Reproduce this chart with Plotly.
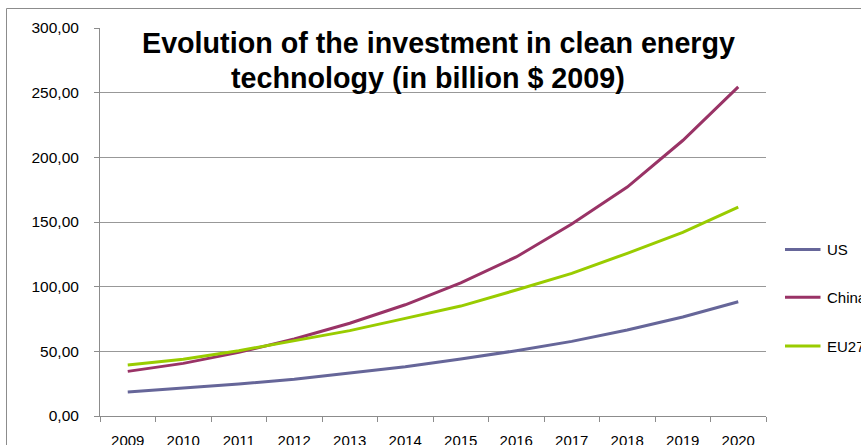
import plotly.graph_objects as go

# Investment in clean energy technology, billion $ (2009 prices)
years = ["2009", "2010", "2011", "2012", "2013", "2014",
         "2015", "2016", "2017", "2018", "2019", "2020"]
us = [18.6, 21.4, 24.7, 28.4, 33.0, 38.0, 44.0, 50.5, 57.7, 66.5, 76.5, 88.3]
china = [34.5, 40.7, 49.2, 59.5, 71.7, 86.0, 103.0, 123.0, 148.5, 177.0, 213.0, 254.5]
eu27 = [39.4, 43.8, 50.5, 58.0, 66.0, 75.5, 85.0, 97.4, 110.3, 125.8, 142.0, 161.5]

series_names = ["US", "China", "EU27"]
series_values = [us, china, eu27]
series_colors = ["#666699", "#993366", "#99CC00"]

title_lines = ["Evolution of the investment in clean energy",
               "technology (in billion $ 2009)"]

W, H = 861, 445
L, R, T, B = 100, 95, 28, 29
plot_w = W - L - R
plot_h = H - T - B

FONT = "Liberation Sans, Arial, sans-serif"
AXIS = "#8C8C8C"
GRID = "#989898"

fig = go.Figure()
for name, vals, col in zip(series_names, series_values, series_colors):
    fig.add_trace(go.Scatter(
        x=years, y=vals, name=name, mode="lines",
        line=dict(color=col, width=3),
        showlegend=False,
    ))


def px_x(px):
    return (px - L) / plot_w


def px_y(py):
    return (H - B - py) / plot_h


shapes = [
    # outer chart frame
    dict(type="rect", xref="paper", yref="paper",
         x0=px_x(6.5), x1=px_x(W + 20), y0=px_y(H + 20), y1=px_y(8.5),
         line=dict(color=AXIS, width=1), layer="below"),
]
annotations = []

# hand-placed legend at the right of the plot
legend_rows = [249.5, 297.3, 346]
for name, col, row in zip(series_names, series_colors, legend_rows):
    shapes.append(dict(type="line", xref="paper", yref="paper",
                       x0=px_x(785), x1=px_x(820.5), y0=px_y(row), y1=px_y(row),
                       line=dict(color=col, width=3)))
    annotations.append(dict(xref="paper", yref="paper", x=px_x(825), y=px_y(row),
                            xanchor="left", yanchor="middle", showarrow=False,
                            text=name, font=dict(family=FONT, size=15, color="#000000")))

# two-line bold title
for line, cx, cy in zip(title_lines, [438, 428], [43, 78]):
    annotations.append(dict(xref="paper", yref="paper", x=px_x(cx), y=px_y(cy),
                            xanchor="center", yanchor="middle", showarrow=False,
                            text="<b>" + line + "</b>",
                            font=dict(family=FONT, size=28.7, color="#000000")))

fig.update_layout(
    width=W, height=H,
    margin=dict(l=L, r=R, t=T, b=B, pad=0),
    paper_bgcolor="#FFFFFF", plot_bgcolor="#FFFFFF",
    separators=",.",
    font=dict(family=FONT, size=15, color="#000000"),
    shapes=shapes, annotations=annotations,
    showlegend=False,
)
fig.update_xaxes(
    type="category", range=[-0.5, 11.5], automargin=False,
    showline=True, linecolor=AXIS, linewidth=1,
    ticks="outside", tickson="boundaries", ticklen=5, tickcolor=AXIS,
    showgrid=False, ticklabelstandoff=11,
    tickfont=dict(family=FONT, size=15, color="#000000"),
)
fig.update_yaxes(
    range=[0, 300], dtick=50, tick0=0, tickformat=".2f", automargin=False,
    showline=True, linecolor=AXIS, linewidth=1,
    ticks="outside", ticklen=5, tickcolor=AXIS,
    showgrid=True, gridcolor=GRID, gridwidth=1, zeroline=False,
    ticklabelstandoff=12,
    tickfont=dict(family=FONT, size=15.5, color="#000000"),
)

fig.write_html("out.html")
